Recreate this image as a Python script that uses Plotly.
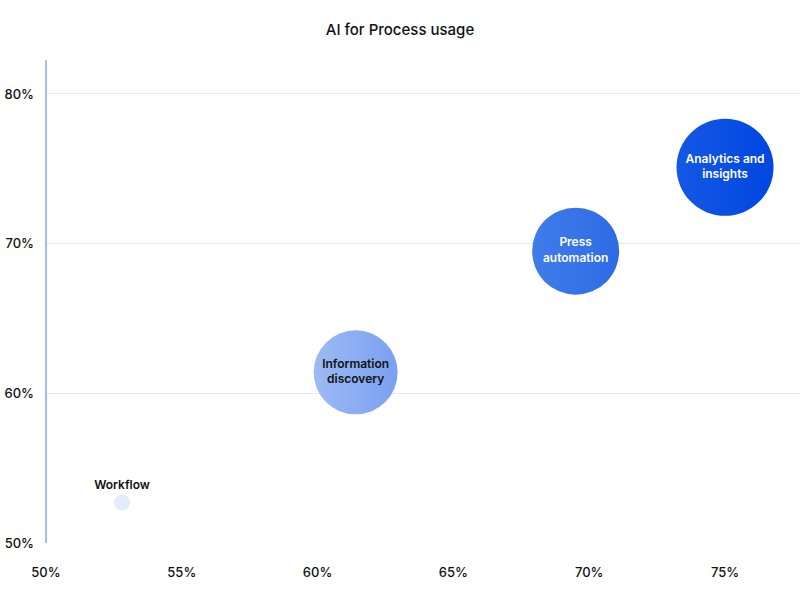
import plotly.graph_objects as go

# values (percent)
labels = ["Workflow", "Information<br>discovery", "Press<br>automation", "Analytics and<br>insights"]
adoption = [52.8, 61.4, 69.5, 75.0]
usage = [52.7, 61.4, 69.5, 75.1]
bubble_size = [16, 84, 87, 97]

x_ticks = [50, 55, 60, 65, 70, 75]
y_ticks = [50, 60, 70, 80]

colors_right = ["#e4ecfb", "#7aa0f0", "#2d6be6", "#0047e0"]
colors_left = ["#e4ecfb", "#9cbaf5", "#3f7de9", "#1558e6"]
text_colors = ["#111111", "#111111", "#ffffff", "#ffffff"]
text_pos = ["top center", "middle center", "middle center", "middle center"]

fig = go.Figure()
fig.add_trace(go.Scatter(
    x=adoption, y=usage, mode="markers+text",
    text=labels, textposition=text_pos,
    textfont=dict(family="Inter", size=12, color=text_colors, weight=600),
    marker=dict(size=bubble_size, sizemode="diameter", color=colors_left,
                gradient=dict(type="horizontal", color=colors_right),
                line=dict(width=0), opacity=1),
    hoverinfo="skip", showlegend=False,
))

# y axis line in light blue
fig.add_shape(type="line", xref="paper", yref="paper", x0=0, x1=0, y0=0, y1=1,
              line=dict(color="#7fa9f6", width=1.5), layer="above")

fig.update_layout(
    width=800, height=597,
    paper_bgcolor="white", plot_bgcolor="white",
    margin=dict(l=46, r=0, t=60, b=54),
    title=dict(text="AI for Process usage", x=0.5, xanchor="center", y=0.95, yanchor="middle",
               font=dict(family="Inter", size=15, color="#111111", weight=500)),
    font=dict(family="Inter", size=13, color="#111111"),
    xaxis=dict(range=[50, 77.76], tickvals=x_ticks, ticktext=[f"{v}%" for v in x_ticks],
               showgrid=False, zeroline=False, showline=False, ticks="",
               automargin=False, ticklabelstandoff=20,
               tickfont=dict(size=13, color="#111111", weight=500)),
    yaxis=dict(range=[50, 82.27], tickvals=y_ticks, ticktext=[f"{v}%" for v in y_ticks],
               showgrid=True, gridcolor="#e4e8f3", gridwidth=1, zeroline=False,
               showline=False, ticks="",
               automargin=False, ticklabelstandoff=11,
               tickfont=dict(size=13, color="#111111", weight=500)),
)

fig.write_html("out.html", config={"displayModeBar": False},
               post_script="document.body.style.margin='0';document.body.style.overflow='hidden';")
